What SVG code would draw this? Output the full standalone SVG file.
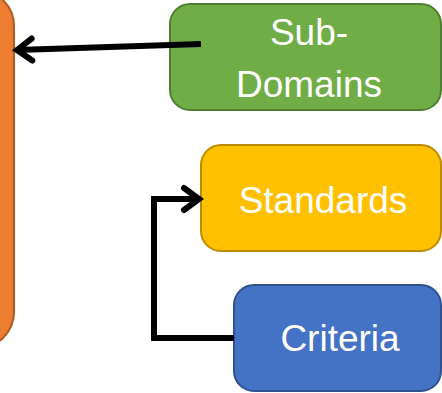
<svg xmlns="http://www.w3.org/2000/svg" width="442" height="393" viewBox="0 0 442 393">
<defs>
<style>
.lbl{font-family:"Liberation Sans",Arial,sans-serif;font-size:37px;fill:#ffffff;text-anchor:middle}
.conn{fill:none;stroke:#000000;stroke-width:6}
</style>
<marker id="chev" viewBox="-20 -16 24 32" refX="0" refY="0" markerWidth="24" markerHeight="32" markerUnits="userSpaceOnUse" orient="auto" overflow="visible">
<path d="M -15 -11 L 0 0 L -15 11" fill="none" stroke="#000000" stroke-width="6" stroke-linecap="round" stroke-linejoin="miter"/>
</marker>
</defs>
<rect width="442" height="393" fill="#ffffff"/>
<g id="domain">
<rect x="-60" y="-10" width="74" height="358" rx="36" fill="#ED7D31" stroke="#AE5A21" stroke-width="2"/>
</g>
<g id="subdomains">
<rect x="170" y="4" width="271" height="106" rx="20" fill="#70AD47" stroke="#507E32" stroke-width="2"/>
<text class="lbl" x="309" y="45">Sub-</text>
<text class="lbl" x="309" y="97">Domains</text>
</g>
<g id="standards">
<rect x="201" y="145" width="240" height="106" rx="20" fill="#FFC000" stroke="#BC8C00" stroke-width="2"/>
<text class="lbl" x="323" y="213">Standards</text>
</g>
<g id="criteria">
<rect x="234" y="285" width="207" height="106" rx="20" fill="#4472C4" stroke="#2F528F" stroke-width="2"/>
<text class="lbl" x="340" y="351">Criteria</text>
</g>
<g id="connectors">
<line class="conn" x1="201" y1="44" x2="17" y2="50" marker-end="url(#chev)"/>
<polyline class="conn" points="234,338 154,338 154,199 199,199" marker-end="url(#chev)"/>
</g>
</svg>
